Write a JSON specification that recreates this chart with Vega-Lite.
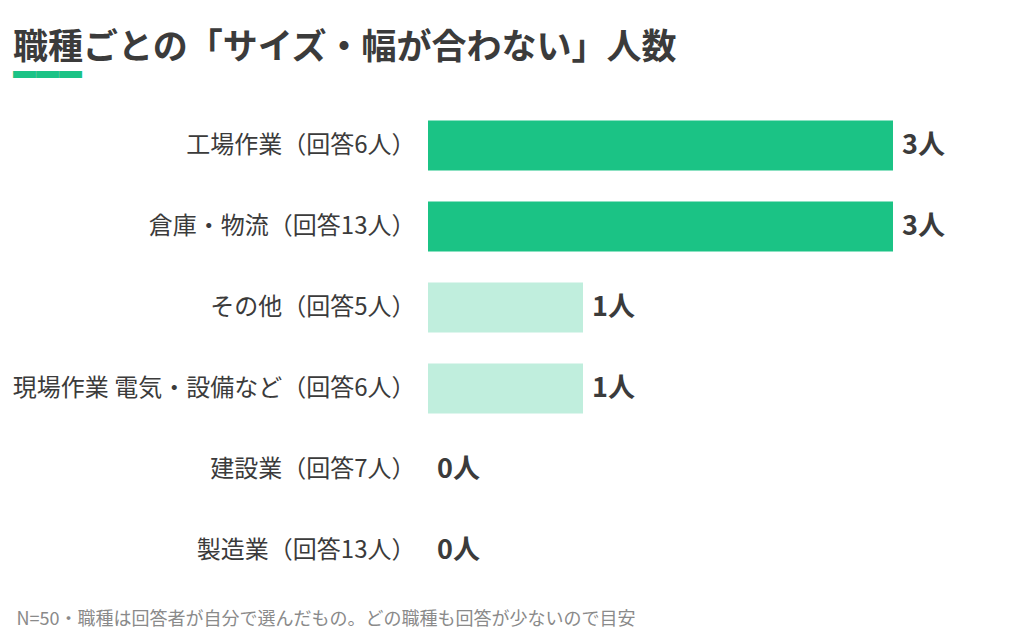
{
  "$schema": "https://vega.github.io/schema/vega-lite/v6.json",
  "autosize": {"type": "none"},
  "width": 465,
  "height": 486,
  "padding": {"left": 428, "top": 105, "right": 131, "bottom": 49},
  "background": "white",
  "config": {
    "view": {"stroke": null},
    "font": "Noto Sans CJK JP"
  },
  "title": {
    "text": "職種ごとの「サイズ・幅が合わない」人数",
    "subtitle": "▬▬▬",
    "anchor": "start",
    "frame": "group",
    "dx": -415,
    "fontSize": 35,
    "fontWeight": "bold",
    "color": "#3b3b3b",
    "subtitleColor": "#1bc385",
    "subtitleFontSize": 23,
    "subtitlePadding": -6,
    "offset": 22
  },
  "data": {
    "values": [
      {"job": "工場作業（回答6人）", "count": 3},
      {"job": "倉庫・物流（回答13人）", "count": 3},
      {"job": "その他（回答5人）", "count": 1},
      {"job": "現場作業 電気・設備など（回答6人）", "count": 1},
      {"job": "建設業（回答7人）", "count": 0},
      {"job": "製造業（回答13人）", "count": 0}
    ]
  },
  "transform": [
    {"calculate": "datum.count + '人'", "as": "label"}
  ],
  "encoding": {
    "y": {
      "field": "job",
      "type": "nominal",
      "sort": null,
      "scale": {"paddingInner": 0.38, "paddingOuter": 0.19},
      "axis": {
        "title": null,
        "ticks": false,
        "domain": false,
        "labelFontSize": 24,
        "labelColor": "#3b3b3b",
        "labelPadding": 13,
        "labelLimit": 420
      }
    },
    "x": {
      "field": "count",
      "type": "quantitative",
      "scale": {"domain": [0, 3]},
      "axis": {
        "labels": false,
        "ticks": false,
        "domain": false,
        "grid": false,
        "title": "N=50・職種は回答者が自分で選んだもの。どの職種も回答が少ないので目安",
        "titleAnchor": "start",
        "titleX": -412,
        "titleY": 33,
        "titleBaseline": "alphabetic",
        "titleFontSize": 18,
        "titleFontWeight": "normal",
        "titleColor": "#8a8a8a"
      }
    }
  },
  "layer": [
    {
      "mark": {"type": "bar"},
      "encoding": {
        "color": {
          "condition": {"test": "datum.count >= 3", "value": "#1bc385"},
          "value": "#c0eedd"
        }
      }
    },
    {
      "mark": {
        "type": "text",
        "align": "left",
        "baseline": "middle",
        "dx": 9,
        "fontSize": 27,
        "fontWeight": "bold",
        "color": "#3b3b3b"
      },
      "encoding": {
        "text": {"field": "label", "type": "nominal"}
      }
    }
  ]
}
